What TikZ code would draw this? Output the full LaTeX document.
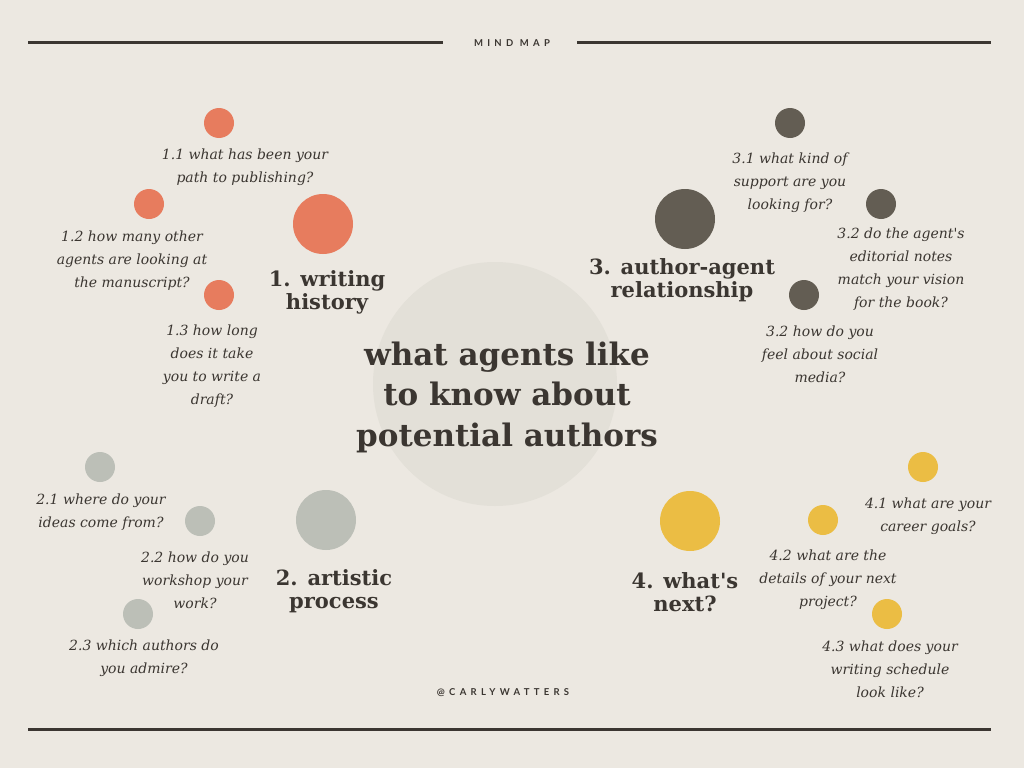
\documentclass[tikz,border=0pt]{standalone}
\usepackage{fontspec}
\setmainfont{DejaVu Serif}
\newfontfamily\serifq{DejaVu Serif}
\newfontfamily\tagfont[LetterSpace=45]{Lato}
\definecolor{bgc}{HTML}{ECE8E1}
\definecolor{orangec}{HTML}{E77C5E}
\definecolor{darkc}{HTML}{635D53}
\definecolor{sagec}{HTML}{BCBFB7}
\definecolor{yellowc}{HTML}{EBBD44}
\definecolor{centerc}{HTML}{E3E0D8}
\definecolor{inkc}{HTML}{3B3631}
\tikzset{
  dot/.style={circle, fill=#1, draw=none, inner sep=0pt, minimum size=30pt},
  bigdot/.style={circle, fill=#1, draw=none, inner sep=0pt, minimum size=60pt},
  qtext/.style={text=inkc, align=center, inner sep=0pt, font={\serifq\itshape\fontsize{14}{23}\selectfont}},
  htext/.style={text=inkc, align=center, inner sep=0pt, font={\serifq\bfseries\fontsize{21}{23}\selectfont}},
  ctext/.style={text=inkc, align=center, inner sep=0pt, font={\serifq\bfseries\fontsize{31}{40.5}\selectfont}},
  tagtext/.style={text=inkc, inner sep=0pt, font={\tagfont\bfseries\fontsize{9.5}{11}\selectfont}},
  rule/.style={draw=inkc, line width=3pt}
}
\begin{document}
\begin{tikzpicture}[x=1pt,y=-1pt]
\fill[bgc] (0,0) rectangle (1024,768);
\useasboundingbox (0,0) rectangle (1024,768);

% header and footer
\coordinate (tl1) at (28,43);
\coordinate (tl2) at (443,43);
\coordinate (tr1) at (577,43);
\coordinate (tr2) at (991,43);
\coordinate (bl1) at (28,729);
\coordinate (bl2) at (991,729);
\draw[rule] (tl1) -- (tl2);
\draw[rule] (tr1) -- (tr2);
\draw[rule] (bl1) -- (bl2);
\node[tagtext] (mindmap) at (512,43) {MIND MAP};
\node[tagtext] (handle) at (503,693) {@CARLYWATTERS};

% centre
\node[circle, fill=centerc, inner sep=0pt, minimum size=244pt] (cc) at (495,384) {};
\node[ctext] (ct) at (507,397) {what agents like\\to know about\\potential authors};

% 1. writing history
\node[dot=orangec] (d11) at (219,123) {};
\node[qtext] (t11) at (245,167) {1.1 what has been your\\path to publishing?};
\node[dot=orangec] (d12) at (149,204) {};
\node[qtext] (t12) at (132,261) {1.2 how many other\\agents are looking at\\the manuscript?};
\node[bigdot=orangec] (d1) at (323,224) {};
\node[htext] (h1) at (327,292) {1. writing\\history};
\node[dot=orangec] (d13) at (219,295) {};
\node[qtext] (t13) at (212,366) {1.3 how long\\does it take\\you to write a\\draft?};

% 3. author-agent relationship
\node[dot=darkc] (d31) at (790,123) {};
\node[qtext] (t31) at (790,183) {3.1 what kind of\\support are you\\looking for?};
\node[dot=darkc] (d32) at (881,204) {};
\node[qtext] (t32) at (901,269) {3.2 do the agent's\\editorial notes\\match your vision\\for the book?};
\node[bigdot=darkc] (d3) at (685,219) {};
\node[htext] (h3) at (682,280) {3. author-agent\\relationship};
\node[dot=darkc] (d33) at (804,295) {};
\node[qtext] (t33) at (820,354) {3.2 how do you\\feel about social\\media?};

% 2. artistic process
\node[dot=sagec] (d21) at (100,467) {};
\node[qtext] (t21) at (101,512) {2.1 where do your\\ideas come from?};
\node[dot=sagec] (d22) at (200,521) {};
\node[qtext] (t22) at (195,580) {2.2 how do you\\workshop your\\work?};
\node[bigdot=sagec] (d2) at (326,520) {};
\node[htext] (h2) at (334,591) {2. artistic\\process};
\node[dot=sagec] (d23) at (138,614) {};
\node[qtext] (t23) at (144,658) {2.3 which authors do\\you admire?};

% 4. what's next
\node[dot=yellowc] (d41) at (923,467) {};
\node[qtext] (t41) at (928,516) {4.1 what are your\\career goals?};
\node[dot=yellowc] (d42) at (823,520) {};
\node[qtext] (t42) at (828,580) {4.2 what are the\\details of your next\\project?};
\node[bigdot=yellowc] (d4) at (690,521) {};
\node[htext] (h4) at (685,592) {4. what's\\next?};
\node[dot=yellowc] (d43) at (887,614) {};
\node[qtext] (t43) at (890,669) {4.3 what does your\\writing schedule\\look like?};
\end{tikzpicture}
\end{document}
